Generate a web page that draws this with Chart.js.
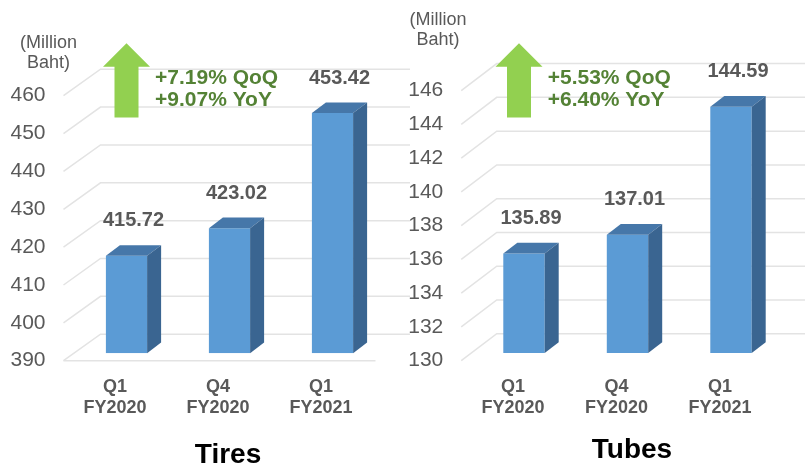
<!DOCTYPE html>
<html>
<head>
<meta charset="utf-8">
<script src="https://cdn.jsdelivr.net/npm/chart.js@4.4.1/dist/chart.umd.min.js"></script>
<style>
    html, body { margin: 0; padding: 0; background: #fff; }
    #wrap { position: relative; width: 805px; height: 463px; overflow: hidden; }
    canvas { position: absolute; top: 0; }
</style>
</head>
<body>
<div id="wrap">
    <canvas id="tiresChart" width="412" height="463" style="left:0"></canvas>
    <canvas id="tubesChart" width="405" height="463" style="left:400px"></canvas>
</div>
<script>
// Data
const categories = [['Q1', 'FY2020'], ['Q4', 'FY2020'], ['Q1', 'FY2021']];
const tiresValues = [415.72, 423.02, 453.42];
const tubesValues = [135.89, 137.01, 144.59];
const tiresGrowth = ['+7.19% QoQ', '+9.07% YoY'];
const tubesGrowth = ['+5.53% QoQ', '+6.40% YoY'];
const unitLabel = ['(Million', 'Baht)'];

const FONT = '"Liberation Sans", Arial, sans-serif';
const GRAY = '#595959';

// 3D look: back wall gridlines, bar side/top faces, labels and annotations
const deco = {
    id: 'deco',
    beforeDatasetsDraw(chart, args, o) {
        const { ctx, chartArea: a, scales: { y } } = chart;
        ctx.save();
        ctx.strokeStyle = '#E3E3E3';
        ctx.lineWidth = 1.5;
        y.ticks.forEach(t => {
            const py = y.getPixelForValue(t.value);
            ctx.beginPath();
            ctx.moveTo(a.left, py);
            ctx.lineTo(a.left + o.wall.x, py + o.wall.y);
            ctx.lineTo(o.wallRight, py + o.wall.y);
            ctx.stroke();
        });
        if (o.floorLine) {
            ctx.beginPath();
            ctx.moveTo(a.left, a.bottom);
            ctx.lineTo(a.right + 3, a.bottom);
            ctx.stroke();
        }
        ctx.restore();
        // bars sit a bit deeper than the front edge
        ctx.save();
        ctx.translate(o.barShift.x, o.barShift.y);
    },
    afterDatasetsDraw(chart, args, o) {
        const { ctx } = chart;
        const meta = chart.getDatasetMeta(0);
        const values = chart.data.datasets[0].data;
        const dx = 14, dy = -10.7;
        meta.data.forEach((bar, i) => {
            const { x, y, base, width } = bar.getProps(['x', 'y', 'base', 'width'], true);
            const l = x - width / 2, r = x + width / 2;
            ctx.fillStyle = '#4677A9';
            ctx.beginPath();
            ctx.moveTo(l, y); ctx.lineTo(l + dx, y + dy); ctx.lineTo(r + dx, y + dy); ctx.lineTo(r, y);
            ctx.closePath(); ctx.fill();
            ctx.fillStyle = '#3A6591';
            ctx.beginPath();
            ctx.moveTo(r, y); ctx.lineTo(r + dx, y + dy); ctx.lineTo(r + dx, base + dy); ctx.lineTo(r, base);
            ctx.closePath(); ctx.fill();

            ctx.fillStyle = GRAY;
            ctx.font = 'bold 20px ' + FONT;
            ctx.textAlign = 'center';
            ctx.textBaseline = 'middle';
            ctx.fillText(values[i].toFixed(2), x + dx / 2, y - 35);
        });
        ctx.restore();
    },
    afterDraw(chart, args, o) {
        const { ctx } = chart;
        ctx.save();
        // unit label
        ctx.fillStyle = GRAY;
        ctx.font = '18px ' + FONT;
        ctx.textAlign = 'center';
        ctx.textBaseline = 'middle';
        ctx.fillText(unitLabel[0], o.unit.x, o.unit.y);
        ctx.fillText(unitLabel[1], o.unit.x, o.unit.y + 20);

        // green arrow
        const ar = o.arrow;
        ctx.fillStyle = '#92D050';
        ctx.beginPath();
        ctx.moveTo(ar.x, 43.3);
        ctx.lineTo(ar.x + 23.5, 66.7);
        ctx.lineTo(ar.x + 12, 66.7);
        ctx.lineTo(ar.x + 12, 117.5);
        ctx.lineTo(ar.x - 12, 117.5);
        ctx.lineTo(ar.x - 12, 66.7);
        ctx.lineTo(ar.x - 23.5, 66.7);
        ctx.closePath();
        ctx.fill();

        // growth text
        ctx.fillStyle = '#548235';
        ctx.font = 'bold 21px ' + FONT;
        ctx.textAlign = 'left';
        o.growth.forEach((t, i) => ctx.fillText(t, o.growthX, 78.5 + i * 21.5));

        // chart name
        ctx.fillStyle = '#000';
        ctx.font = 'bold 28px ' + FONT;
        ctx.textAlign = 'center';
        ctx.textBaseline = 'alphabetic';
        ctx.fillText(o.title, o.titlePos.x, o.titlePos.y);
        ctx.restore();
    }
};

function makeChart(id, values, yMin, yMax, step, geo, decoOpts) {
    const canvas = document.getElementById(id);
    return new Chart(canvas.getContext('2d'), {
        type: 'bar',
        data: {
            labels: categories,
            datasets: [{
                data: values,
                base: yMin,
                backgroundColor: '#5B9BD5',
                borderWidth: 0,
                barPercentage: 0.4,
                categoryPercentage: 1
            }]
        },
        options: {
            responsive: false,
            animation: false,
            events: [],
            layout: {
                padding: { top: geo.top, right: canvas.width - geo.right, bottom: 0, left: 0 }
            },
            plugins: {
                legend: { display: false },
                tooltip: { enabled: false },
                deco: decoOpts
            },
            scales: {
                x: {
                    grid: { display: false, drawTicks: false },
                    border: { display: false },
                    ticks: {
                        color: GRAY,
                        padding: 16,
                        maxRotation: 0,
                        font: { family: FONT, size: 18, weight: 'bold', lineHeight: 1.15 }
                    },
                    afterFit(s) { s.height = canvas.height - 360.7; }
                },
                y: {
                    min: yMin,
                    max: yMax,
                    grid: { display: false, drawTicks: false },
                    border: { display: false },
                    ticks: {
                        stepSize: step,
                        color: GRAY,
                        padding: 18,
                        font: { family: FONT, size: 21 }
                    },
                    afterFit(s) { s.width = geo.left; }
                }
            }
        },
        plugins: [deco]
    });
}

makeChart('tiresChart', tiresValues, 390, 460, 10,
    { top: 95.7, left: 63.5, right: 372.5 },
    {
        wall: { x: 37, y: -26.5 }, wallRight: 410, floorLine: true,
        barShift: { x: 11.5, y: -7.5 },
        unit: { x: 48.5, y: 42.7 },
        arrow: { x: 126.5 },
        growth: tiresGrowth, growthX: 155,
        title: 'Tires', titlePos: { x: 228, y: 463 }
    });

makeChart('tubesChart', tubesValues, 130, 146, 2,
    { top: 90.6, left: 61.25, right: 371.75 },
    {
        wall: { x: 35.5, y: -27 }, wallRight: 405, floorLine: false,
        barShift: { x: 11, y: -7.7 },
        unit: { x: 38, y: 20 },
        arrow: { x: 119 },
        growth: tubesGrowth, growthX: 147.7,
        title: 'Tubes', titlePos: { x: 232, y: 458 }
    });
</script>
</body>
</html>
